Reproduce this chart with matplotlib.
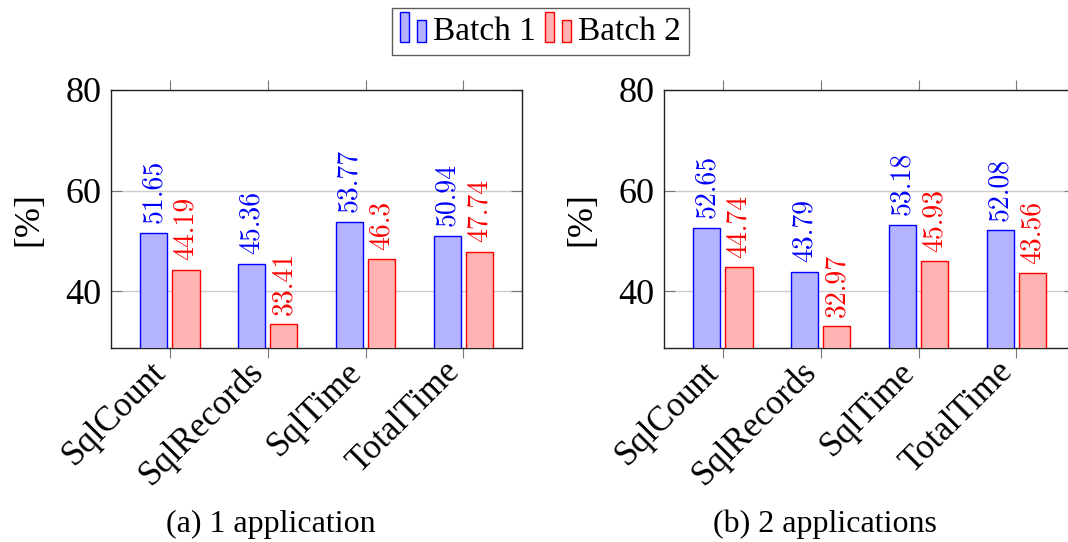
import matplotlib
matplotlib.use("Agg")
import matplotlib.pyplot as plt
import matplotlib.transforms as mtransforms
from matplotlib.patches import Rectangle, Patch
from matplotlib.legend_handler import HandlerBase
import numpy as np

categories = ["SqlCount", "SqlRecords", "SqlTime", "TotalTime"]
batch1_app1 = [51.65, 45.36, 53.77, 50.94]
batch2_app1 = [44.19, 33.41, 46.3, 47.74]
batch1_app2 = [52.65, 43.79, 53.18, 52.08]
batch2_app2 = [44.74, 32.97, 45.93, 43.56]
label1_app1 = ["51.65", "45.36", "53.77", "50.94"]
label2_app1 = ["44.19", "33.41", "46.3", "47.74"]
label1_app2 = ["52.65", "43.79", "53.18", "52.08"]
label2_app2 = ["44.74", "32.97", "45.93", "43.56"]
yticks = [40, 60, 80]
captions = ["(a) 1 application", "(b) 2 applications"]
series_names = ["Batch 1", "Batch 2"]

SERIF = ["Liberation Serif", "DejaVu Serif"]
BLUE_FILL = (0.7, 0.7, 1.0)
RED_FILL = (1.0, 0.7, 0.7)

fig = plt.figure(figsize=(10.68, 5.42), dpi=100)

def draw_panel(ax, v1, v2, l1, l2):
    x = np.arange(len(categories))
    w = 0.28
    off = 0.165
    ax.bar(x - off, v1, w, color=BLUE_FILL, edgecolor="blue", linewidth=1, zorder=3)
    ax.bar(x + off, v2, w, color=RED_FILL, edgecolor="red", linewidth=1, zorder=3)
    for xi, v, t in zip(x - off, v1, l1):
        ax.annotate(t, (xi, v), xytext=(0, 7), textcoords="offset points",
                    rotation=90, ha="center", va="bottom", color="blue",
                    fontsize=20, family="cmr10")
    for xi, v, t in zip(x + off, v2, l2):
        ax.annotate(t, (xi, v), xytext=(0, 7), textcoords="offset points",
                    rotation=90, ha="center", va="bottom", color="red",
                    fontsize=20, family="cmr10")
    ax.set_xlim(-0.6, 3.6)
    ax.set_ylim(28.7, 80)
    ax.set_yticks(yticks)
    ax.set_yticklabels([str(t) for t in yticks], fontsize=26, family=SERIF)
    ax.set_xticks(x)
    ax.set_xticklabels([])
    shift = mtransforms.ScaledTranslation(-0.09, -0.19, fig.dpi_scale_trans)
    for xi, cat in zip(x, categories):
        ax.text(xi, 0, cat, transform=ax.get_xaxis_transform() + shift,
                rotation=45, ha="right", va="center", rotation_mode="anchor",
                fontsize=25, family=SERIF, clip_on=False)
    ax.tick_params(axis="x", direction="out", length=7.5, width=0.8, color="#777777",
                   top=True, bottom=True, pad=3)
    ax.tick_params(axis="y", direction="in", length=8, width=0.8, color="#777777",
                   left=True, right=True, pad=7)
    ax.yaxis.grid(True, color="#cccccc", linewidth=1, zorder=0)
    ax.set_axisbelow(True)
    for s in ax.spines.values():
        s.set_linewidth(1)
        s.set_color("#222222")
    ax.set_ylabel("[%]", fontsize=26, family=SERIF, labelpad=14)

ax1 = fig.add_axes([0.1039, 0.358, 0.385, 0.476])
draw_panel(ax1, batch1_app1, batch2_app1, label1_app1, label2_app1)
ax2 = fig.add_axes([0.6217, 0.358, 0.385, 0.476])
draw_panel(ax2, batch1_app2, batch2_app2, label1_app2, label2_app2)

fig.text(0.254, 0.033, captions[0], ha="center", va="center", fontsize=23, family=SERIF)
fig.text(0.772, 0.033, captions[1], ha="center", va="center", fontsize=23, family=SERIF)


class HandlerTwoBars(HandlerBase):
    def create_artists(self, legend, orig_handle, xdescent, ydescent, width, height,
                       fontsize, trans):
        fc = orig_handle.get_facecolor()
        ec = orig_handle.get_edgecolor()
        bw = width * 0.36
        y0 = -ydescent - height * 0.1
        r1 = Rectangle((-xdescent, y0), bw, height * 1.28,
                       facecolor=fc, edgecolor=ec, linewidth=1, transform=trans)
        r2 = Rectangle((-xdescent + width * 0.66, y0), bw, height * 0.95,
                       facecolor=fc, edgecolor=ec, linewidth=1, transform=trans)
        return [r1, r2]


h1 = Patch(facecolor=BLUE_FILL, edgecolor="blue")
h2 = Patch(facecolor=RED_FILL, edgecolor="red")
leg = fig.legend([h1, h2], series_names, loc="upper center", bbox_to_anchor=(0.506, 0.985),
                 ncol=2, frameon=True, fancybox=False, edgecolor="#333333",
                 prop={"family": SERIF, "size": 24}, handler_map={Patch: HandlerTwoBars()},
                 handlelength=0.75, handletextpad=0.22, columnspacing=0.3,
                 borderpad=0.25, borderaxespad=0.0)
leg.get_frame().set_linewidth(1)

fig.savefig("out.png", dpi=100)
